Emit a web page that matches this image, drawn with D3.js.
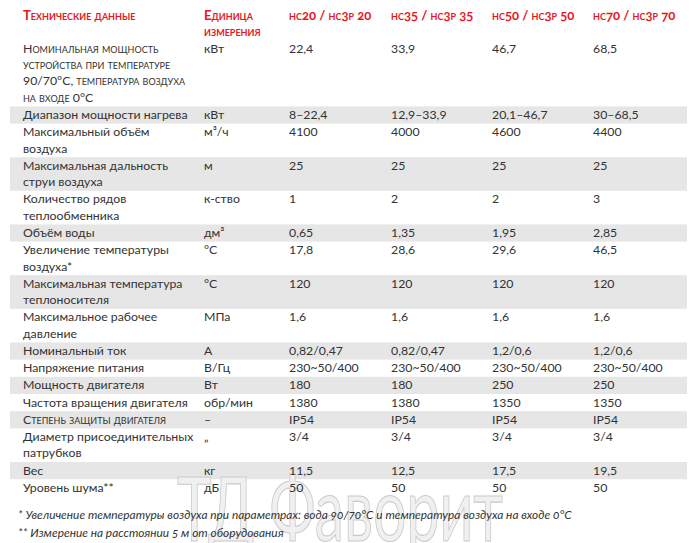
<!DOCTYPE html>
<html><head><meta charset="utf-8">
<script src="https://cdn.jsdelivr.net/npm/d3@7"></script>
<style>
html,body{margin:0;padding:0;background:#fff;}
svg{display:block;}
text{font-family:Lato,"Open Sans",sans-serif;}
</style></head>
<body><svg id="c" width="700" height="543"></svg>
<script>
const models = ["нс20 / нс3р 20","нс35 / нс3р 35","нс50 / нс3р 50","нс70 / нс3р 70"];
const headParam = "Технические данные";
const headUnit = "Единица\nизмерения";
const params = [
 "Номинальная мощность\nустройства при температуре\n90/70°C, температура воздуха\nна входе 0°C",
 "Диапазон мощности нагрева",
 "Максимальный объём\nвоздуха",
 "Максимальная дальность\nструи воздуха",
 "Количество рядов\nтеплообменника",
 "Объём воды",
 "Увеличение температуры\nвоздуха*",
 "Максимальная температура\nтеплоносителя",
 "Максимальное рабочее\nдавление",
 "Номинальный ток",
 "Напряжение питания",
 "Мощность двигателя",
 "Частота вращения двигателя",
 "Степень защиты двигателя",
 "Диаметр присоединительных\nпатрубков",
 "Вес",
 "Уровень шума**"
];
const units = ["кВт","кВт","м³/ч","м","к-ство","дм³","°C","°C","МПа","А","В/Гц","Вт","обр/мин","–","„","кг","дБ"];
const hc20 = ["22,4","8–22,4","4100","25","1","0,65","17,8","120","1,6","0,82/0,47","230~50/400","180","1380","IP54","3/4","11,5","50"];
const hc35 = ["33,9","12,9–33,9","4000","25","2","1,35","28,6","120","1,6","0,82/0,47","230~50/400","180","1380","IP54","3/4","12,5","50"];
const hc50 = ["46,7","20,1–46,7","4600","25","2","1,95","29,6","120","1,6","1,2/0,6","230~50/400","250","1350","IP54","3/4","17,5","50"];
const hc70 = ["68,5","30–68,5","4400","25","3","2,85","46,5","120","1,6","1,2/0,6","230~50/400","250","1350","IP54","3/4","19,5","50"];
const footnotes = ["* Увеличение температуры воздуха при параметрах: вода 90/70°C и температура воздуха на входе 0°C",
                   "** Измерение на расстоянии 5 м от оборудования"];
const watermark = "ТД Фаворит";

const smallCapsRows = new Set([0, 13]);
const RED = "#e8151d", TXT = "#333", STRIPE = "#e6e6e6";
const FS = 12.3, HFS = 13.1, LH = 16.4, PAD = 0.8, TOP = 40;

const svg = d3.select("#c");
const cols = ["param","unit","m0","m1","m2","m3"];
const x = d3.scaleOrdinal().domain(cols).range([23, 204, 289, 391, 492, 593]);

const rows = params.map((p, i) => ({
  i, label: p.split("\n"), unit: units[i], vals: [hc20[i], hc35[i], hc50[i], hc70[i]]
}));
rows.forEach(r => r.h = r.label.length * LH + PAD);
const ends = d3.cumsum(rows, r => r.h);
rows.forEach((r, k) => r.y0 = TOP + ends[k] - r.h);

// stripes
svg.append("g").selectAll("rect").data(rows.filter(r => r.i % 2 === 1)).join("rect")
  .attr("x", 10).attr("width", 677).attr("y", r => r.y0).attr("height", r => r.h)
  .attr("fill", STRIPE);

// watermark
svg.append("text").text(watermark)
  .attr("x", 177).attr("y", 541).attr("font-size", 90)
  .attr("textLength", 326).attr("lengthAdjust", "spacingAndGlyphs")
  .attr("fill", "#f0f0f0").attr("stroke", "#c9c9c9").attr("stroke-width", 1.1);

// header
const hg = svg.append("g").attr("fill", RED).attr("font-weight", 700).attr("font-size", HFS)
  .style("font-variant-numeric", "oldstyle-nums").style("font-variant-caps", "small-caps");
hg.append("text").attr("x", x("param")).attr("y", 20).text(headParam);
hg.append("text").attr("x", x("unit")).attr("y", 20)
  .selectAll("tspan").data(headUnit.split("\n")).join("tspan")
  .attr("x", x("unit")).attr("dy", (d, j) => j ? LH : 0).text(d => d);
hg.selectAll("text.m").data(models).join("text").attr("class","m")
  .attr("x", (d, j) => x("m" + j)).attr("y", 20)
  .text(d => d);

// body
const rg = svg.append("g").attr("fill", TXT).attr("font-size", FS);
const rowG = rg.selectAll("g").data(rows).join("g");
rowG.append("text")
  .attr("x", x("param")).attr("y", r => r.y0 + 12.6)
  .style("font-variant-caps", r => smallCapsRows.has(r.i) ? "small-caps" : "normal")
  .selectAll("tspan").data(r => r.label).join("tspan")
  .attr("x", x("param")).attr("dy", (d, j) => j ? LH : 0).text(d => d);
rowG.append("text").attr("x", x("unit")).attr("y", r => r.y0 + 12.6).text(r => r.unit);
rowG.selectAll("text.v").data(r => r.vals.map(v => ({v, y0: r.y0}))).join("text").attr("class","v")
  .attr("x", (d, j) => x("m" + j)).attr("y", d => d.y0 + 12.6).text(d => d.v);

// footnotes
svg.append("g").attr("fill", TXT).attr("font-size", 11.9).attr("font-style", "italic")
  .style("font-variant-numeric", "oldstyle-nums")
  .selectAll("text").data(footnotes).join("text")
  .attr("x", 18).attr("y", (d, j) => 519 + j * 18).text(d => d);
</script></body></html>
